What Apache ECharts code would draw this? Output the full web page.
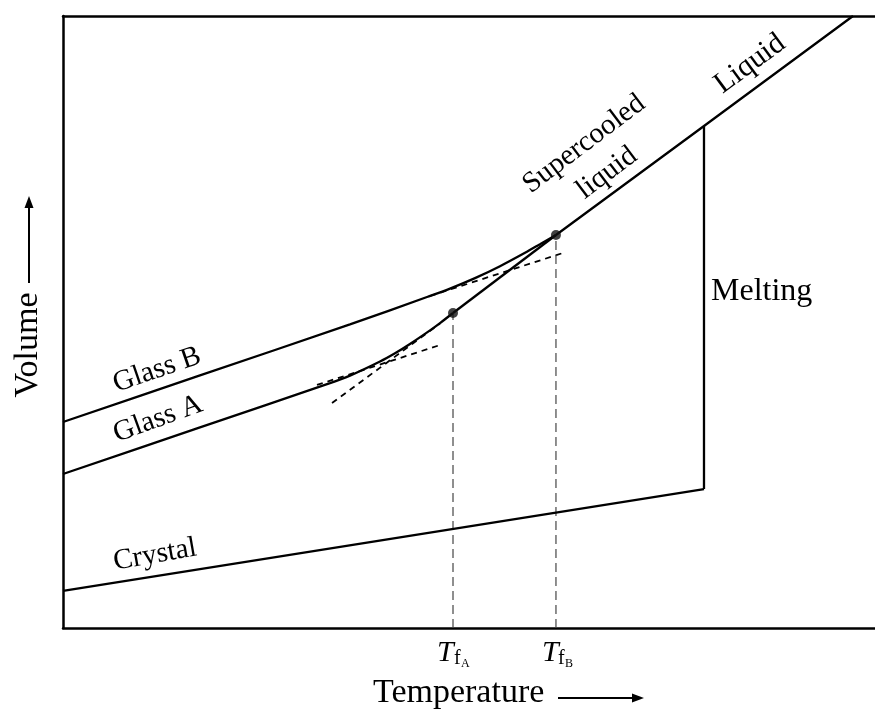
<!DOCTYPE html>
<html>
<head>
<meta charset="utf-8">
<script src="https://cdn.jsdelivr.net/npm/echarts@6/dist/echarts.min.js"></script>
<style>
html,body{margin:0;padding:0;background:#fff;}
#chart{width:875px;height:711px;}
</style>
</head>
<body>
<div id="chart"></div>
<script>
// Abstract units: temperature 0-100 (x), volume 0-100 (y)
const liquid = [[60.71, 64.22], [78.94, 82.03], [97.29, 100]];
const supercooled = [[48.03, 51.47], [60.71, 64.22]];
const glassB = [[0, 33.66], [16.87, 41.27], [35.34, 49.61], [44.83, 54.08], [47.66, 55.46], [50.74, 57.17], [53.82, 59.12], [56.90, 61.31], [58.74, 62.71], [60.71, 64.22]];
const glassA = [[0, 25.16], [16.87, 32.78], [32.88, 40.00], [35.34, 41.24], [39.04, 43.55], [40.89, 44.90], [42.73, 46.41], [45.20, 48.63], [46.43, 49.82], [48.03, 51.47]];
const crystal = [[0, 6.05], [78.94, 22.71]];
const melting = [[78.94, 22.71], [78.94, 82.03]];
const tangentB = [[45.20, 54.25], [61.95, 61.44]];
const tangentA = [[31.28, 39.71], [46.43, 46.24]];
const supercooledExt = [[33.13, 36.76], [46.43, 49.75]];
const fictiveT = [48.03, 60.71];
const fictiveV = [51.47, 64.22];

const FONT = "'Liberation Serif','Times New Roman',serif";
const chart = echarts.init(document.getElementById('chart'), null, {renderer: 'canvas'});

function solid(data, smooth) {
  return {type: 'line', data: data, symbol: 'none', smooth: smooth ? 0.3 : false,
    lineStyle: {color: '#000', width: 2.3}, silent: true, z: 3, animation: false};
}
function dashed(data, color, width, dash) {
  return {type: 'line', data: data, symbol: 'none',
    lineStyle: {color: color, width: width, type: dash}, silent: true, z: 2, animation: false};
}
function txt(x, y, text, size, rot, align, italic) {
  return {type: 'text', x: x, y: y, rotation: rot || 0, z: 10,
    style: {text: text, fontSize: size, fontFamily: FONT, fontStyle: italic ? 'italic' : 'normal',
      fill: '#000', align: align || 'center', verticalAlign: 'middle',
      textAlign: align || 'center', textVerticalAlign: 'middle'}};
}

const series = [
  solid(liquid), solid(supercooled), solid(glassB, true), solid(glassA, true),
  solid(crystal), solid(melting),
  dashed(tangentB, '#000', 1.8, [6, 5]),
  dashed(tangentA, '#000', 1.8, [6, 5]),
  dashed(supercooledExt, '#000', 1.8, [6, 5]),
  dashed([[fictiveT[0], 0], [fictiveT[0], fictiveV[0]]], '#444', 1.2, [9, 5]),
  dashed([[fictiveT[1], 0], [fictiveT[1], fictiveV[1]]], '#444', 1.2, [9, 5]),
  {type: 'scatter', data: fictiveT.map((t, i) => [t, fictiveV[i]]), symbol: 'circle', symbolSize: 10,
    itemStyle: {color: '#111'}, silent: true, z: 5, animation: false}
];

const deg = Math.PI / 180;
chart.setOption({
  animation: false,
  grid: {left: 63, top: 16, right: 0, bottom: 83},
  xAxis: [
    {type: 'value', min: 0, max: 100, position: 'bottom', axisLine: {show: true, lineStyle: {color: '#000', width: 2.5}},
      axisTick: {show: false}, axisLabel: {show: false}, splitLine: {show: false}},
    {type: 'value', min: 0, max: 100, position: 'top', axisLine: {show: true, lineStyle: {color: '#000', width: 2.5}},
      axisTick: {show: false}, axisLabel: {show: false}, splitLine: {show: false}}
  ],
  yAxis: {type: 'value', min: 0, max: 100, axisLine: {show: true, lineStyle: {color: '#000', width: 2.5}},
    axisTick: {show: false}, axisLabel: {show: false}, splitLine: {show: false}},
  series: series,
  graphic: [
    txt(750, 64, 'Liquid', 30, 36.4 * deg),
    txt(584, 144, 'Supercooled', 29, 37 * deg),
    txt(607, 173, 'liquid', 29, 37 * deg),
    txt(711, 292, 'Melting', 32, 0, 'left'),
    txt(157, 370, 'Glass B', 29, 19 * deg),
    txt(158, 419, 'Glass A', 29, 20 * deg),
    txt(155, 555, 'Crystal', 29, 10 * deg),
    txt(437, 653, 'T', 30, 0, 'left', true),
    txt(454, 659, 'f', 20, 0, 'left'),
    txt(461, 664, 'A', 12, 0, 'left'),
    txt(542, 653, 'T', 30, 0, 'left', true),
    txt(558, 659, 'f', 20, 0, 'left'),
    txt(565, 664, 'B', 12, 0, 'left'),
    txt(373, 693, 'Temperature', 34, 0, 'left'),
    txt(28, 345, 'Volume', 34, 90 * deg),
    {type: 'line', shape: {x1: 558, y1: 698, x2: 636, y2: 698}, style: {stroke: '#000', lineWidth: 2}},
    {type: 'polygon', shape: {points: [[644, 698], [632, 693.5], [632, 702.5]]}, style: {fill: '#000'}},
    {type: 'line', shape: {x1: 29, y1: 283, x2: 29, y2: 205}, style: {stroke: '#000', lineWidth: 2}},
    {type: 'polygon', shape: {points: [[29, 196], [24.5, 208], [33.5, 208]]}, style: {fill: '#000'}}
  ]
});
</script>
</body>
</html>
